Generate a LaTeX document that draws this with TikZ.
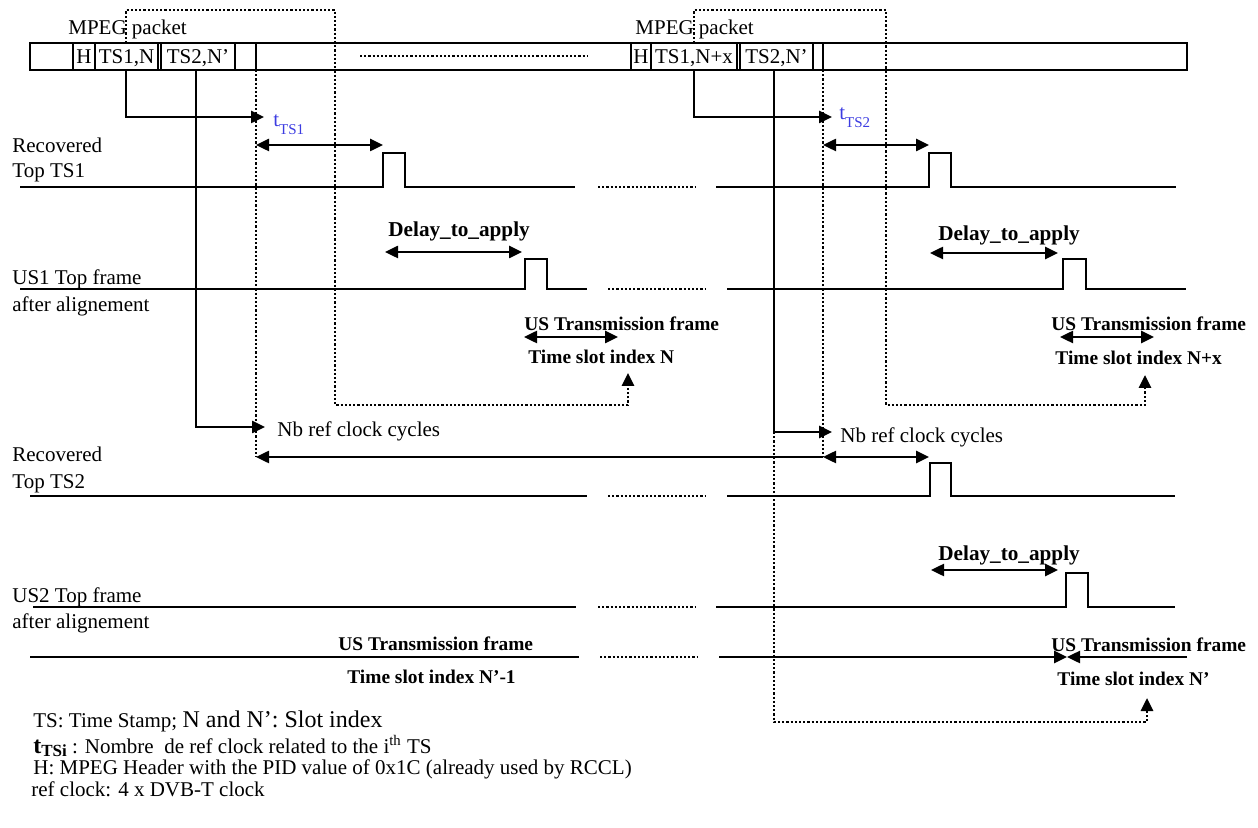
\documentclass[tikz,border=0pt]{standalone}
\usepackage{fontspec}
\setmainfont{Liberation Serif}
\usetikzlibrary{arrows.meta}
\definecolor{tsblue}{RGB}{60,60,225}
\begin{document}
\begin{tikzpicture}[x=0.5pt,y=-0.5pt,
  sig/.style={line width=1.25pt, line join=miter},
  dotl/.style={line width=1.4pt, dash pattern=on 1.1pt off 1pt},
  tip/.style={-{Triangle[length=6.5pt,width=6pt]}},
  dtip/.style={{Triangle[length=6.5pt,width=6pt]}-{Triangle[length=6.5pt,width=6pt]}},
  lbl/.style={inner sep=0pt, anchor=base west, font=\fontsize{10.5}{12}\selectfont},
  clbl/.style={inner sep=0pt, anchor=base, font=\fontsize{10.5}{12}\selectfont},
  blbl/.style={inner sep=0pt, anchor=base west, font=\fontsize{9.7}{11}\selectfont\bfseries},
  dlbl/.style={inner sep=0pt, anchor=base west, font=\fontsize{10.6}{12}\selectfont\bfseries},
  tlbl/.style={inner sep=0pt, anchor=base west, text=tsblue, font=\fontsize{10.5}{12}\selectfont},
]
\useasboundingbox (0,0) rectangle (1258,828);

% ---------- packet bar ----------
\draw[sig] (30,43) rectangle (1187,70);
\foreach \x in {73,95,158,161,235,256,631,651,737,740,813,823}
  \draw[sig] (\x,43) -- (\x,70);
\draw[dotl] (360,56) -- (587,56);
\node[clbl] (h1) at (84,64) {H};
\node[clbl] (ts1n) at (126.5,64) {TS1,N};
\node[clbl] (ts2n) at (198,64) {TS2,N’};
\node[clbl] (h2) at (641,64) {H};
\node[clbl] (ts1nx) at (694,64) {TS1,N+x};
\node[clbl] (ts2nb) at (776.5,64) {TS2,N’};
\node[lbl] (mp1) at (68,35) {MPEG packet};
\node[lbl] (mp2) at (635,35) {MPEG packet};

% ---------- dotted boxes ----------
\draw[dotl,tip] (126,43) -- (126,10) -- (335,10) -- (335,405) -- (628,405) -- (628,373);
\draw[dotl,tip] (694,43) -- (694,10) -- (886,10) -- (886,405) -- (1145,405) -- (1145,375);
\draw[dotl,tip] (774,432) -- (774,722) -- (1147,722) -- (1147,698);
\draw[dotl] (256,70) -- (256,457);
\draw[dotl] (823,70) -- (823,457);

% ---------- TS drop lines ----------
\draw[sig,tip] (126,70) -- (126,117) -- (264,117);
\draw[sig,tip] (694,70) -- (694,117) -- (832,117);
\draw[sig,tip] (196,70) -- (196,427) -- (265,427);
\draw[sig,tip] (774,70) -- (774,432) -- (832,432);

\node[tlbl] (t1) at (273,127) {t\raisebox{-4pt}{\fontsize{7.5}{8}\selectfont TS1}};
\node[tlbl] (t2) at (839,120) {t\raisebox{-4pt}{\fontsize{7.5}{8}\selectfont TS2}};
\draw[sig,dtip] (256,145) -- (383,145);
\draw[sig,dtip] (823,145) -- (929,145);

% ---------- Recovered Top TS1 ----------
\node[lbl] (rec1) at (12,153) {Recovered};
\node[lbl] (top1) at (12,178) {Top TS1};
\draw[sig] (20,187) -- (383,187) -- (383,153) -- (405,153) -- (405,187) -- (575,187);
\draw[dotl] (598,187) -- (695,187);
\draw[sig] (716,187) -- (929,187) -- (929,153) -- (951,153) -- (951,187) -- (1176,187);

% ---------- US1 ----------
\node[lbl] (us1a) at (12,285) {US1 Top frame};
\node[lbl] (us1b) at (12,312) {after alignement};
\draw[sig] (20,289) -- (525,289) -- (525,259) -- (547,259) -- (547,289) -- (587,289);
\draw[dotl] (608,289) -- (705,289);
\draw[sig] (727,289) -- (1063,289) -- (1063,259) -- (1086,259) -- (1086,289) -- (1186,289);

\node[dlbl] (d1) at (388,237) {Delay\_to\_apply};
\draw[sig,dtip] (385,252) -- (522,252);
\node[dlbl] (d2) at (938,241) {Delay\_to\_apply};
\draw[sig,dtip] (930,253) -- (1058,253);

\node[blbl] (us1) at (524,331) {US Transmission frame};
\draw[sig,dtip] (524,337) -- (618,337);
\node[blbl] (tsn) at (528,364) {Time slot index N};
\node[blbl] (us2) at (1051,331) {US Transmission frame};
\draw[sig,dtip] (1060,337) -- (1154,337);
\node[blbl] (tsnx) at (1055,365) {Time slot index N+x};

\node[lbl] (nb1) at (277,437) {Nb ref clock cycles};
\node[lbl] (nb2) at (840,443) {Nb ref clock cycles};

% ---------- Recovered Top TS2 ----------
\node[lbl] (rec2) at (12,461) {Recovered};
\node[lbl] (top2) at (12,488) {Top TS2};
\draw[sig,tip] (823,457) -- (256,457);
\draw[sig,dtip] (823,457) -- (929,457);
\draw[sig] (30,496) -- (587,496);
\draw[dotl] (608,496) -- (705,496);
\draw[sig] (727,496) -- (930,496) -- (930,463) -- (951,463) -- (951,496) -- (1175,496);

% ---------- US2 ----------
\node[lbl] (us2a) at (12,602) {US2 Top frame};
\node[lbl] (us2b) at (12,628) {after alignement};
\draw[sig] (33,607) -- (576,607);
\draw[dotl] (598,607) -- (695,607);
\draw[sig] (716,607) -- (1066,607) -- (1066,573) -- (1088,573) -- (1088,607) -- (1175,607);
\node[dlbl] (d3) at (938,560) {Delay\_to\_apply};
\draw[sig,dtip] (931,570) -- (1058,570);

% ---------- US transmission frame bottom ----------
\node[blbl] (us3) at (338,650) {US Transmission frame};
\node[blbl] (tsn1) at (347,683) {Time slot index N’-1};
\draw[sig] (30,657) -- (579,657);
\draw[dotl] (600,657) -- (697,657);
\draw[sig,tip] (719,657) -- (1067,657);
\draw[sig,tip] (1187,657) -- (1067,657);
\node[blbl] (us4) at (1051,651) {US Transmission frame};
\node[blbl] (tsnp) at (1057,685) {Time slot index N’};

% ---------- legend ----------
\node[lbl] (lg1) at (33,727) {TS: Time Stamp; {\fontsize{12}{14}\selectfont N and N’: Slot index}};
\node[inner sep=0pt, anchor=base west] (lg2) at (33,753) {{\fontsize{12}{14}\selectfont\bfseries t}\raisebox{-1.5pt}{\fontsize{8.5}{9}\selectfont\bfseries TSi}{\fontsize{10.5}{12}\selectfont{} : Nombre \ de ref clock related to the i\textsuperscript{th} TS}};
\node[lbl] (lg3) at (33,774) {H: MPEG Header with the PID value of 0x1C (already used by RCCL)};
\node[lbl] (lg4) at (31,796) {ref clock: 4 x DVB-T clock};
\end{tikzpicture}
\end{document}
